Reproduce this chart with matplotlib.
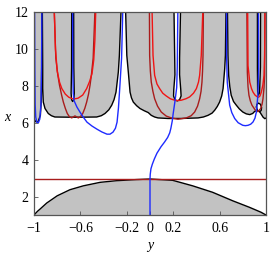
import matplotlib
matplotlib.use('Agg')
import matplotlib.pyplot as plt

# ---- data (horizontal = y, vertical = x) ----

# lower grey dome
dome_y = [-1.0, -0.97, -0.948, -0.89, -0.8, -0.69, -0.575, -0.43, -0.287, -0.115, 0.0,
          0.195, 0.368, 0.54, 0.713, 0.856, 0.957, 1.0]
dome_x = [1.0, 1.2, 1.32, 1.65, 2.04, 2.37, 2.58, 2.77, 2.86, 2.92, 2.95,
          2.88, 2.58, 2.23, 1.77, 1.42, 1.15, 1.0]

# horizontal dark red line
hline_x = 2.95

# lower boundary of the upper grey region (black curve)
edge_y = [-1.0, -0.985, -0.965, -0.945, -0.937, -0.934, -0.933,
          -0.928, -0.925, -0.925, -0.92, -0.905, -0.877, -0.85, -0.82, -0.7, -0.6, -0.46,
          -0.42, -0.388, -0.355, -0.33, -0.31, -0.293, -0.273, -0.264, -0.25,
          -0.21, -0.2, -0.187, -0.172, -0.16, -0.144, -0.115, -0.086, -0.05, -0.015, 0.011,
          0.04, 0.069, 0.155, 0.27, 0.414, 0.46, 0.5, 0.535, 0.558, 0.58, 0.6, 0.618, 0.63,
          0.644, 0.65, 0.655,
          0.668, 0.672, 0.678, 0.688, 0.70, 0.72, 0.744, 0.77, 0.80, 0.83, 0.86, 0.885,
          0.90, 0.92, 0.945, 0.96, 0.975, 0.99, 1.0]
edge_x = [6.2, 6.05, 6.05, 6.4, 7.2, 9.0, 12.0,
          12.0, 9.0, 7.85, 7.12, 6.77, 6.5, 6.38, 6.31, 6.3, 6.3, 6.31,
          6.38, 6.5, 6.7, 6.95, 7.25, 7.66, 8.75, 9.65, 12.0,
          12.0, 9.65, 8.75, 7.66, 7.35, 7.12, 6.92, 6.77, 6.65, 6.55, 6.4,
          6.31, 6.26, 6.23, 6.23, 6.26, 6.31, 6.4, 6.52, 6.68, 6.88, 7.12, 7.45, 7.85,
          8.93, 9.65, 12.0,
          12.0, 9.65, 8.57, 7.95, 7.49, 7.15, 6.95, 6.75, 6.58, 6.48, 6.44, 6.5,
          6.6, 6.68, 6.6, 6.45, 6.3, 6.22, 6.25]

# white fingers hanging down from the top
f1_y = [-0.675, -0.676, -0.68, -0.676, -0.667, -0.657, -0.653, -0.657, -0.658]
f1_x = [12.0, 9.0, 7.6, 7.25, 7.15, 7.25, 7.6, 9.0, 12.0]
f2_y = [0.207, 0.213, 0.215, 0.205, 0.203, 0.215, 0.235, 0.255, 0.268, 0.265, 0.255, 0.255, 0.263]
f2_x = [12.0, 9.5, 8.6, 7.8, 7.45, 7.25, 7.18, 7.25, 7.45, 7.8, 8.6, 9.5, 12.0]
f3_y = [0.926, 0.926, 0.928, 0.935, 0.944, 0.952, 0.953]
f3_x = [12.0, 9.0, 7.7, 7.5, 7.62, 9.0, 12.0]
# small white loop under the last finger
loop_y = [0.918, 0.922, 0.935, 0.952, 0.962, 0.958, 0.945, 0.928, 0.918]
loop_x = [6.85, 7.0, 7.06, 7.0, 6.82, 6.66, 6.6, 6.64, 6.85]

# blue curves
b1_y = [-0.995, -0.993, -0.99, -0.985, -0.975, -0.962, -0.95, -0.94, -0.935, -0.932]
b1_x = [12.0, 9.0, 7.0, 6.3, 6.02, 6.0, 6.2, 7.0, 9.0, 12.0]
b2_y = [-0.667, -0.666, -0.662, -0.655, -0.63, -0.603, -0.575, -0.543, -0.5, -0.457,
        -0.415, -0.371, -0.345, -0.319, -0.298, -0.284, -0.272, -0.261, -0.245, -0.235]
b2_x = [12.0, 9.0, 7.6, 7.2, 6.85, 6.57, 6.3, 6.03, 5.82, 5.65,
        5.5, 5.38, 5.38, 5.49, 5.7, 6.03, 6.8, 7.86, 9.5, 12.0]
b3_y = [0.0, 0.0, 0.002, 0.008, 0.02, 0.037, 0.06, 0.095, 0.125, 0.152, 0.17, 0.18,
        0.192, 0.2, 0.216, 0.23, 0.235, 0.24]
b3_x = [1.0, 2.95, 3.2, 3.5, 3.75, 4.03, 4.35, 4.7, 4.95, 5.2, 5.45, 5.7,
        6.1, 6.5, 7.2, 7.9, 9.0, 12.0]
b4_y = [0.66, 0.66, 0.666, 0.687, 0.705, 0.73, 0.76, 0.80, 0.822, 0.845, 0.868, 0.888,
        0.905, 0.917, 0.93, 0.937, 0.935]
b4_x = [12.0, 9.65, 8.2, 6.95, 6.55, 6.23, 6.0, 5.86, 5.84, 5.86, 5.92, 6.04,
        6.25, 6.58, 7.49, 8.93, 12.0]

# bright red curves
r1_y = [-0.825, -0.815, -0.80, -0.78, -0.76, -0.73, -0.70, -0.66, -0.62, -0.58, -0.546,
        -0.52, -0.50, -0.485, -0.475, -0.468]
r1_x = [12.0, 10.0, 8.8, 8.2, 7.85, 7.55, 7.38, 7.28, 7.33, 7.5, 7.85,
        8.25, 8.66, 9.4, 10.5, 12.0]
r2_y = [0.018, 0.026, 0.04, 0.06, 0.083, 0.11, 0.14, 0.175, 0.213, 0.24, 0.27, 0.31,
        0.342, 0.375, 0.4, 0.418, 0.428, 0.442, 0.455]
r2_x = [12.0, 9.65, 8.57, 8.1, 7.85, 7.6, 7.45, 7.3, 7.22, 7.2, 7.22, 7.3,
        7.4, 7.6, 7.85, 8.2, 8.57, 9.65, 12.0]
r3_y = [0.842, 0.845, 0.86, 0.875, 0.888, 0.905, 0.925, 0.935, 0.948, 0.96, 0.973,
        0.983, 0.988, 0.992]
r3_x = [12.0, 9.1, 8.2, 7.85, 7.66, 7.5, 7.4, 7.38, 7.45, 7.66, 8.05,
        8.57, 9.65, 12.0]

# dark red curves
d1_y = [-0.825, -0.812, -0.795, -0.78, -0.762, -0.747, -0.73, -0.713, -0.695, -0.675,
        -0.66, -0.647, -0.633, -0.618, -0.6, -0.58, -0.562, -0.546, -0.53, -0.517,
        -0.505, -0.49, -0.475]
d1_x = [12.0, 9.5, 8.6, 8.03, 7.5, 7.12, 6.78, 6.5, 6.33, 6.26,
        6.32, 6.37, 6.32, 6.26, 6.33, 6.5, 6.78, 7.12, 7.55, 8.03,
        8.6, 9.5, 12.0]
d2_y = [-0.005, -0.003, 0.003, 0.011, 0.025, 0.04, 0.065, 0.097, 0.14, 0.184, 0.241,
        0.313, 0.355, 0.385, 0.41, 0.428, 0.44, 0.448, 0.453, 0.457, 0.46]
d2_x = [12.0, 9.65, 8.8, 8.2, 7.7, 7.3, 6.9, 6.58, 6.36, 6.26, 6.19,
        6.26, 6.38, 6.58, 6.9, 7.3, 7.7, 8.2, 8.8, 9.65, 12.0]
d3_y = [0.835, 0.839, 0.845, 0.853, 0.865, 0.879, 0.908, 0.93, 0.954, 0.966, 0.974,
        0.983, 0.988, 0.99]
d3_x = [12.0, 8.75, 7.95, 7.49, 7.18, 6.95, 6.68, 6.6, 6.77, 7.0, 7.3,
        7.9, 8.57, 12.0]

xticks = [-1, -0.6, -0.2, 0, 0.2, 0.6, 1]
xtick_labels = ['\u22121', '\u22120.6', '\u22120.2', '0', '0.2', '0.6', '1']
yticks = [2, 4, 6, 8, 10, 12]

GREY = '#C2C2C2'
BLUE = '#1E2BFF'
RED = '#F01414'
DARKRED = '#A81C1C'

plt.rcParams['font.family'] = ['Liberation Serif', 'DejaVu Serif']
plt.rcParams['font.size'] = 10

fig = plt.figure(figsize=(2.73, 2.59), dpi=100)
ax = fig.add_axes([34 / 273, 1 - 215 / 259, 232 / 273, 203 / 259])

# lower dome
ax.fill_between(dome_y, 1, dome_x, color=GREY, lw=0)
ax.plot(dome_y, dome_x, color='black', lw=1.0)

# upper region: grey above the black edge
ax.fill(edge_y + [1.0, -1.0], edge_x + [12.0, 12.0], color=GREY, lw=0)
ax.plot(edge_y, edge_x, color='black', lw=1.0)

# white fingers and the little loop
for fy, fx in [(f1_y, f1_x), (f2_y, f2_x), (f3_y, f3_x), (loop_y, loop_x)]:
    ax.fill(fy, fx, color='white', lw=0)
    ax.plot(fy, fx, color='black', lw=1.0)

ax.axhline(hline_x, color=DARKRED, lw=1.0)

for cy, cx in [(d1_y, d1_x), (d2_y, d2_x), (d3_y, d3_x)]:
    ax.plot(cy, cx, color=DARKRED, lw=1.0)
for cy, cx in [(r1_y, r1_x), (r2_y, r2_x), (r3_y, r3_x)]:
    ax.plot(cy, cx, color=RED, lw=1.0)
for cy, cx in [(b1_y, b1_x), (b2_y, b2_x), (b3_y, b3_x), (b4_y, b4_x)]:
    ax.plot(cy, cx, color=BLUE, lw=1.0)

ax.set_xlim(-1, 1)
ax.set_ylim(1, 12)
ax.set_xticks(xticks)
ax.set_xticklabels(xtick_labels)
ax.set_yticks(yticks)
ax.tick_params(direction='in', length=3, width=0.6, color='#555555')
ax.tick_params(axis='x', pad=5)
ax.tick_params(axis='y', pad=4)
for s in ax.spines.values():
    s.set_color('#555555')
    s.set_linewidth(0.9)

ax.text(-0.115, (6.3 - 1) / 11, 'x', transform=ax.transAxes, ha='center',
        va='center', style='italic', fontsize=10)
ax.text(0.5, -0.15, 'y', transform=ax.transAxes, ha='center',
        va='center', style='italic', fontsize=10)

fig.savefig('out.png', dpi=100)
